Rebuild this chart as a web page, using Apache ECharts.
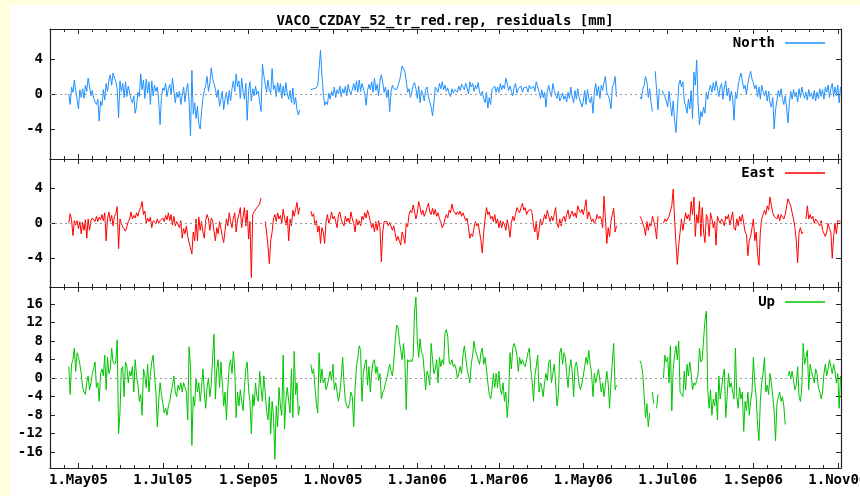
<!DOCTYPE html>
<html><head><meta charset="utf-8">
<script src="https://cdn.jsdelivr.net/npm/echarts@6/dist/echarts.min.js"></script>
<style>html,body{margin:0;padding:0;background:#ffffe0}#c{width:860px;height:496px}</style>
</head><body><div id="c"></div>
<script>
// ---- data (daily residuals, mm) ----
const startDate = '2005-04-24';
const north = [
0.0,-1.2,0.8,0.2,1.6,0.4,-0.6,-1.7,0.5,-0.4,
0.6,-0.5,1.0,0.3,1.8,0.9,-0.2,0.4,-0.5,-0.9,
-1.2,-0.6,-3.1,-0.8,-1.3,0.5,-0.7,1.2,0.3,1.6,
2.2,1.0,2.4,2.6,1.4,0.6,-2.7,1.5,0.3,1.2,
-0.4,1.4,-0.3,0.9,0.1,-0.6,-1.0,-0.2,-2.2,-1.4,
0.2,-0.3,2.3,0.5,1.6,-0.5,1.7,0.1,1.4,-1.2,
1.5,-0.2,1.0,0.3,0.8,-0.8,-3.5,-0.4,0.7,0.4,
1.2,-0.3,0.6,1.1,0.0,1.8,0.3,-1.0,0.2,-0.4,
0.3,-1.2,-0.2,0.8,-0.9,0.5,1.2,-1.0,-4.8,2.7,
-2.3,-1.0,-2.8,-1.4,-3.4,-4.0,-2.0,-0.5,0.4,1.0,
2.0,0.3,1.2,3.0,1.8,1.6,0.6,-0.4,0.5,-1.4,
-0.6,0.3,-1.8,-0.5,0.2,-1.2,0.4,-0.8,0.6,1.5,
0.3,2.3,0.8,1.5,-0.5,1.8,0.2,-0.6,1.2,-3.0,
0.4,1.4,-0.8,0.6,-0.2,0.9,0.0,0.3,-0.9,-2.0,
3.4,2.1,1.2,0.2,1.6,0.4,0.1,2.9,0.5,1.0,
-0.3,1.3,0.2,1.2,-0.5,0.9,-0.2,1.3,0.0,-0.6,
0.4,-1.0,0.7,-1.2,-0.4,-1.8,-2.4,-1.8,null,null,
null,null,null,null,null,0.5,0.6,0.6,0.5,0.7,
1.0,0.8,5.0,2.2,0.2,-1.3,-0.9,-1.2,0.1,-0.6,
0.3,-0.2,0.8,-0.4,0.5,0.0,0.9,-0.3,0.6,0.1,
0.9,-0.2,1.1,0.3,0.0,0.5,1.2,0.4,1.5,0.2,
1.6,0.3,1.2,0.6,0.0,-1.3,0.4,1.1,0.5,1.4,
0.2,1.8,0.4,1.1,-0.2,1.6,2.2,1.3,0.2,0.8,
-0.4,0.5,-2.0,0.3,1.0,0.6,0.8,0.5,0.9,1.4,
2.2,3.2,3.4,2.6,1.5,0.2,0.6,-0.4,0.2,1.0,
1.3,0.6,-0.5,0.9,-1.0,0.4,0.0,-0.8,0.5,0.8,
-0.3,-0.3,-1.5,-2.5,-1.0,0.8,1.0,0.2,1.2,0.6,
1.4,0.5,1.0,0.3,0.7,0.0,-0.3,0.6,0.1,0.5,
0.6,0.2,0.9,0.4,1.1,1.3,0.5,1.2,0.7,0.0,
1.4,0.8,1.2,0.3,1.0,0.6,1.3,0.2,-0.2,0.3,
-0.5,-1.0,0.2,-1.6,-0.4,-1.2,0.5,0.3,0.9,0.2,
0.8,0.2,1.2,0.5,1.0,0.6,1.8,1.2,0.4,0.9,
0.3,-0.2,0.8,1.2,0.1,0.6,0.4,0.9,0.2,0.7,
0.5,0.8,0.2,1.0,0.6,0.4,0.9,0.3,1.4,0.8,
0.3,-0.5,0.5,-0.4,0.2,-1.5,0.3,1.0,0.2,-0.3,
1.2,0.4,-0.2,-0.5,0.3,-0.8,-0.4,0.1,-0.6,-0.2,
-0.9,0.2,-0.5,0.8,-0.3,-1.0,0.4,-0.6,0.6,-0.4,
-0.6,-1.5,-0.8,0.4,-1.2,0.5,-0.5,-1.0,-0.3,-2.2,
0.3,1.2,-0.2,0.9,-0.5,1.0,0.4,1.3,2.0,0.2,
0.4,-0.6,-1.7,0.8,1.1,2.0,-0.3,null,null,null,
null,null,null,null,null,null,null,null,null,null,
null,null,null,-0.3,-0.6,0.5,1.0,2.0,1.4,-0.4,
0.6,-1.0,-2.0,null,2.6,0.5,-1.8,0.6,null,0.4,
0.6,-0.3,-0.8,-1.5,0.3,-1.2,-2.5,-0.8,-3.0,-4.4,
-1.8,1.0,1.6,0.8,1.4,-0.8,-1.4,-2.2,-0.6,-1.7,
0.4,-2.8,2.5,1.0,3.9,-1.0,-3.5,-2.0,-2.6,-1.5,
-2.2,0.2,-0.6,0.5,1.0,0.2,1.3,0.4,1.5,0.6,
-0.3,0.8,1.2,-0.6,0.8,1.5,-0.2,0.7,-0.8,0.3,
-0.5,-3.0,0.2,-0.5,1.0,1.8,2.4,1.5,0.6,1.0,
0.0,1.2,2.0,2.6,1.7,1.3,0.6,1.0,-0.3,0.8,
-0.6,1.0,0.3,-0.2,0.4,-0.8,0.3,-1.0,-1.5,-0.4,
-4.0,-1.8,-0.8,0.4,-0.3,0.6,-0.5,-1.2,-0.2,-1.6,
-3.3,-1.0,0.3,-0.6,0.5,-0.3,0.2,-0.9,0.6,-0.4,
0.8,0.0,-0.5,0.2,-0.7,0.5,-0.3,0.1,-0.6,0.4,
-0.8,0.2,-0.5,0.6,-0.3,0.5,-0.6,0.8,0.2,1.0,
-0.4,0.6,1.2,-0.3,0.8,-0.2,1.0,-1.0,0.8
];
const east = [
0.0,1.1,0.4,-1.4,0.3,-0.2,0.3,-0.6,0.2,-1.2,
0.1,-0.8,0.4,-1.7,0.5,-0.8,0.3,0.6,0.7,0.2,
0.8,0.2,0.7,0.4,1.0,0.3,1.2,-2.0,0.5,1.3,
0.2,0.9,-0.3,0.8,1.1,1.9,-2.9,0.5,0.0,-0.4,
-0.6,-0.9,-0.4,0.2,0.5,1.3,0.5,0.9,0.6,1.2,
0.8,1.5,1.8,2.5,1.0,1.4,0.0,0.6,0.2,0.7,
-0.5,0.3,0.2,0.0,0.5,0.0,0.3,0.1,0.6,0.2,
0.9,0.4,1.2,0.3,1.0,-0.2,0.8,-0.3,0.2,0.4,
-0.5,0.3,-1.7,-0.6,-1.2,-0.3,-1.5,-2.2,-2.8,-3.5,
-1.0,-2.0,0.5,-2.0,0.7,-0.8,0.2,-1.0,-1.7,0.3,
1.0,0.5,-0.8,0.6,0.3,-0.9,-2.0,-0.5,-1.2,0.2,
-0.6,-1.5,-2.2,-0.8,0.5,-0.3,1.2,0.2,-0.5,0.6,
1.2,-1.0,0.4,1.0,1.8,-0.5,0.8,1.8,-0.3,1.5,
-1.8,0.2,-6.2,1.0,1.3,1.5,1.8,2.0,2.2,2.9,
null,null,0.2,-1.0,-2.5,-4.6,-2.0,-1.0,0.5,1.0,
0.2,1.2,0.5,0.9,0.0,1.6,0.6,-0.2,0.8,-2.0,
0.5,-0.3,1.5,0.8,1.6,2.4,1.0,1.8,null,null,
null,null,null,null,null,1.4,0.8,1.1,-0.2,0.3,
-1.0,-0.3,-2.3,-0.5,-1.0,-2.3,0.2,1.0,0.0,0.5,
1.3,0.5,0.8,0.2,-0.5,1.0,1.3,0.4,0.5,-0.3,
0.8,0.2,0.6,0.0,1.3,0.5,0.0,-1.0,0.5,-0.2,
0.3,-0.3,0.8,0.4,1.2,0.6,1.5,0.9,0.2,-0.5,
0.0,-1.0,0.2,-0.8,0.3,-0.5,-4.4,-1.0,0.2,0.0,
0.2,-0.3,0.1,0.0,-0.8,-0.3,-1.2,-2.0,-1.5,-2.0,
-2.5,-1.0,-1.5,-2.3,0.0,-0.4,1.0,1.5,1.2,2.1,
1.3,0.5,1.2,2.5,1.8,1.0,1.5,0.8,1.2,1.8,
2.3,1.3,1.0,1.7,1.0,1.6,0.8,1.2,0.5,0.2,
-0.5,-0.2,0.5,1.0,0.6,1.5,1.2,2.2,1.5,1.7,
1.0,1.3,1.0,1.4,0.8,1.2,1.0,0.3,0.6,-0.5,
-1.7,-1.2,-1.5,-0.5,0.2,-0.3,0.0,-1.0,-2.0,-3.4,
-1.0,0.5,1.8,1.0,1.3,0.5,0.8,0.2,1.0,0.0,
0.5,-0.5,0.3,-0.5,0.2,-0.2,-0.8,0.4,-0.3,-1.6,
0.0,0.8,0.3,1.0,1.8,1.5,1.2,1.8,2.3,1.5,
1.8,1.0,1.4,1.3,1.6,1.2,-0.3,-1.0,0.2,-1.9,
-0.8,0.5,-0.2,0.2,1.0,0.5,1.5,0.8,0.2,0.8,
0.3,1.0,1.8,0.0,-0.5,0.5,-0.3,0.5,0.8,0.2,
1.0,1.5,0.5,1.0,1.4,0.8,1.2,0.6,2.0,1.5,
1.2,1.6,1.0,1.8,2.7,0.5,1.3,0.8,0.2,0.5,
0.0,0.3,1.0,0.5,0.8,0.5,-0.5,3.1,0.5,-2.3,
-0.5,-1.5,0.2,1.0,1.7,-1.0,-0.3,null,null,null,
null,null,null,null,null,null,null,null,null,null,
null,null,null,0.8,0.5,0.0,-0.5,-1.4,0.2,-0.8,
0.0,-0.3,0.8,0.2,-0.5,-1.8,0.8,null,null,null,
0.0,0.5,0.2,0.3,0.8,1.0,2.0,3.9,0.5,-2.3,
-4.7,-2.5,-1.0,0.5,-0.8,0.2,1.2,0.5,1.0,0.3,
2.5,1.0,3.0,-1.5,1.0,0.0,2.5,-1.5,1.8,-1.0,
-2.2,1.0,0.5,-1.5,1.2,0.5,-0.5,0.2,-2.5,0.8,
0.3,0.0,0.5,0.2,-0.3,0.8,0.5,1.0,-0.2,0.5,
1.3,-0.5,-0.8,0.5,-0.3,0.8,0.2,1.0,1.2,-1.0,
-1.3,-3.7,-2.0,-1.5,-0.5,0.5,-2.0,-1.0,-3.5,-4.8,
-1.0,0.5,1.0,1.5,1.0,2.0,1.5,3.0,2.0,1.2,
0.8,1.0,0.5,1.0,0.3,1.0,0.8,0.5,1.0,0.8,
2.8,2.4,2.0,1.2,0.5,-0.5,-2.0,-4.5,-1.0,-0.5,
-1.2,-1.0,null,0.5,2.0,0.5,1.0,0.5,0.8,0.0,
0.5,0.3,0.0,-0.3,0.3,-0.8,-1.0,-1.5,-1.0,0.0,
-0.6,-1.0,-4.0,-1.5,0.0,-1.2,0.3,0.5,0.2
];
const up = [
2.5,-3.5,3.0,4.0,6.5,1.5,5.5,4.5,3.0,1.0,
-2.0,-3.0,-3.5,-1.0,0.5,-2.5,-1.0,1.0,2.0,3.5,
-2.0,-1.0,-5.0,1.0,2.0,0.5,5.0,-2.5,4.5,1.0,
2.0,6.5,3.5,3.0,3.5,8.3,-12.0,-7.5,2.0,2.5,
-4.0,3.5,2.5,-1.0,1.5,0.5,2.5,-3.0,4.0,0.5,
-1.5,-5.0,-3.5,-8.0,2.0,0.5,-2.0,3.0,-3.0,1.0,
3.5,5.0,0.5,-3.0,-10.5,-5.0,-1.0,-3.5,-5.5,-7.5,
-6.5,-8.0,-6.0,-5.0,-3.0,-1.5,0.5,-3.0,-4.0,-1.5,
-2.5,-1.0,-3.0,-1.0,-2.0,-3.0,-9.0,6.8,2.5,-14.5,
-4.0,-6.0,0.0,-3.0,-1.0,-5.0,-2.0,2.0,-3.0,-6.5,
-2.0,0.0,-4.0,-1.5,4.5,9.5,-4.5,2.0,4.0,-2.0,
3.5,-1.0,-6.0,-3.0,-9.0,-2.0,2.5,4.0,1.0,5.8,
2.0,-8.5,-3.0,-6.0,-2.5,-5.0,-7.0,-2.0,2.0,3.5,
-2.5,-5.0,-12.0,-3.5,-6.0,-1.0,-4.0,-5.0,1.5,-2.0,
-5.0,0.5,-3.0,-7.0,-9.0,-4.0,-12.0,-5.0,-8.0,-17.5,
-6.0,-10.5,-2.0,-6.0,-8.0,5.0,-11.0,-4.5,-2.0,-5.0,
-7.5,2.0,-8.5,5.8,-3.5,-1.0,-8.0,-6.0,null,null,
null,null,null,null,null,3.0,1.0,2.0,-2.0,-5.5,
-7.5,5.5,-1.0,2.0,-1.0,0.0,-2.5,-1.5,0.0,1.5,
-0.5,3.0,-2.5,-1.0,-3.0,-5.0,-3.0,0.0,4.5,-1.0,
-5.0,-6.0,-6.5,-5.5,-3.0,-4.0,-10.5,-2.0,2.5,4.5,
7.0,6.0,-5.0,1.0,3.0,4.0,-1.5,2.5,-3.0,1.0,
3.5,4.0,1.0,2.5,-0.5,1.0,-4.5,-3.0,-2.5,-1.0,
0.0,1.5,3.0,1.5,0.5,3.5,8.0,11.5,11.0,8.0,
6.0,4.0,7.5,4.0,-6.8,4.0,3.5,4.0,3.5,4.5,
14.5,17.5,8.0,4.5,8.5,5.5,5.0,1.5,-2.5,1.5,
0.5,-1.5,7.5,4.0,1.0,2.0,4.0,-1.0,4.5,2.5,
4.0,3.0,9.8,10.5,9.0,3.5,3.0,4.0,2.5,3.0,
2.0,0.0,1.0,2.5,1.0,5.0,7.0,4.5,2.0,0.5,
-1.0,3.0,5.0,8.0,6.0,5.0,4.0,3.0,5.5,6.5,
3.0,4.5,2.0,-1.0,-3.5,-4.5,-2.5,1.0,-2.0,1.0,
-2.0,1.5,-2.5,-3.5,-1.0,-5.0,-3.0,-8.5,-4.5,5.5,
2.0,6.5,7.5,6.5,5.0,1.5,4.5,3.0,4.0,3.0,
2.5,4.0,5.5,6.5,2.0,-0.5,-5.0,0.5,2.5,5.0,
-3.0,-1.0,-2.0,-4.0,-1.0,1.0,-0.5,3.5,4.0,-1.0,
1.0,3.0,-1.0,-6.0,-3.5,5.5,6.5,3.0,5.5,4.5,
1.0,-2.0,2.0,4.0,1.5,-4.0,2.5,3.5,1.5,-1.5,
-2.5,-1.0,0.5,2.5,4.5,3.0,6.0,3.0,1.0,-4.0,
1.0,-1.0,0.5,2.0,-0.5,-3.0,-1.0,-4.0,-1.5,1.5,
-1.0,-6.5,-1.0,3.5,7.5,-2.5,-1.5,null,null,null,
null,null,null,null,null,null,null,null,null,null,
null,null,null,3.8,3.0,1.0,-4.0,-8.5,-5.5,-10.5,
-7.5,null,-3.0,-5.5,null,-6.5,-3.5,null,null,null,
0.0,5.0,3.5,4.5,-1.0,7.0,-7.0,2.0,5.0,7.0,
4.0,8.0,-3.0,-3.5,-4.0,1.5,-2.5,3.0,0.5,3.5,
1.0,-2.5,-1.0,-1.5,-0.5,1.0,6.5,3.5,4.0,8.5,
12.5,14.5,-2.5,-6.5,-2.5,-8.0,-4.5,-6.0,-3.0,-9.0,
0.5,-4.5,-2.0,0.5,2.0,-8.5,-4.0,1.0,-2.0,-1.0,
-3.0,-4.5,6.5,-4.0,-6.5,-2.0,-4.5,-3.0,-11.5,-5.0,
-7.0,-3.0,-8.0,-5.0,-3.0,4.5,-1.0,-4.0,-10.0,-13.5,
-5.0,-1.0,1.0,4.5,-3.0,-1.5,-3.5,1.0,-1.0,-4.0,
-7.0,-13.5,-5.5,-4.0,-3.0,-5.0,-4.0,-6.0,-10.0,null,
0.5,1.5,0.0,1.5,-0.5,-2.5,-1.5,2.5,-4.0,-5.0,
-2.0,7.5,3.0,4.5,6.0,-2.5,3.0,1.5,1.5,-1.0,
2.0,1.0,-2.0,-3.0,-4.5,-3.0,1.0,3.0,0.5,2.0,
4.0,4.0,1.0,3.0,1.5,-1.0,1.0,-6.5,0.5
];
const seriesNames = ['North', 'East', 'Up'];
const monthTicks = ['2005-05-01','2005-07-01','2005-09-01','2005-11-01','2006-01-01',
                    '2006-03-01','2006-05-01','2006-07-01','2006-09-01','2006-11-01'];
const yTicksNE = [-4, 0, 4];
const yTicksUp = [-16, -12, -8, -4, 0, 4, 8, 12, 16];
const titleText = 'VACO_CZDAY_52_tr_red.rep, residuals [mm]';

// ---- derived ----
const DAY = 86400000;
const t0 = Date.parse(startDate + 'T00:00:00Z');
const dates = north.map((_, i) => t0 + i * DAY);
const xMin = Date.parse('2005-04-10T10:00:00Z');
const xMax = Date.parse('2006-11-03T08:00:00Z');
const MONTHS = ['Jan','Feb','Mar','Apr','May','Jun','Jul','Aug','Sep','Oct','Nov','Dec'];
const majorTs = monthTicks.map(s => Date.parse(s + 'T00:00:00Z'));
function addMonthsUTC(t, n) { const d = new Date(t); return Date.UTC(d.getUTCFullYear(), d.getUTCMonth() + n, 1); }
const edges = [addMonthsUTC(majorTs[0], -2)].concat(majorTs, [addMonthsUTC(majorTs[majorTs.length - 1], 2)]);
const minorTs = [];
for (let k = 0; k < edges.length - 1; k++) {
  for (let j = 1; j < 6; j++) {
    const t = edges[k] + (edges[k + 1] - edges[k]) * j / 6;
    if (t > xMin && t < xMax) minorTs.push(t);
  }
}
const fmtDate = v => { const d = new Date(v); return '1.' + MONTHS[d.getUTCMonth()] + String(d.getUTCFullYear()).slice(2); };

const FONT = '"DejaVu Sans Mono", "Liberation Mono", monospace';
const AX = '#222';
const colors = ['#1e90ff', '#ff0000', '#00c400'];
const values = [north, east, up];
const grids = [
  { left: 50, right: 19, top: 29, height: 130 },
  { left: 50, right: 19, top: 159, height: 128 },
  { left: 50, right: 19, top: 287, height: 181 }
].map(g => Object.assign(g, { containLabel: false, outerBoundsMode: 'none' }));
const yRanges = [[-7.43, 7.43], [-7.28, 7.35], [-19.4, 19.7]];
const yTicks = [yTicksNE, yTicksNE, yTicksUp];
const legendTops = [36, 166, 295];

const labelStyle = { fontFamily: FONT, fontSize: 14, fontWeight: 'bold', color: '#000' };

function xAx(g, pos, ticks, len, withLine, withLabels) {
  return {
    type: 'value', gridIndex: g, position: pos, min: xMin, max: xMax, scale: true,
    axisLine: { show: withLine, onZero: false, lineStyle: { color: AX, width: 1.2 } },
    axisTick: { show: true, inside: true, length: len, customValues: ticks, lineStyle: { color: AX, width: 1 } },
    axisLabel: withLabels ? Object.assign({ show: true, customValues: majorTs, formatter: fmtDate, margin: 5, showMinLabel: true, showMaxLabel: true }, labelStyle) : { show: false },
    splitLine: { show: false }
  };
}
const xAxis = [], yAxis = [], series = [], legend = [];
for (let g = 0; g < 3; g++) {
  xAxis.push(xAx(g, 'bottom', majorTs, 5, true, g === 2));
  xAxis.push(xAx(g, 'bottom', minorTs, 3, false, false));
  xAxis.push(xAx(g, 'top', majorTs, 5, true, false));
  xAxis.push(xAx(g, 'top', minorTs, 3, false, false));
  ['left', 'right'].forEach(pos => {
    yAxis.push({
      type: 'value', gridIndex: g, position: pos, min: yRanges[g][0], max: yRanges[g][1],
      axisLine: { show: true, onZero: false, lineStyle: { color: AX, width: 1.2 } },
      axisTick: { show: true, inside: true, length: 5, customValues: yTicks[g], lineStyle: { color: AX, width: 1 } },
      axisLabel: pos === 'left' ? Object.assign({ show: true, customValues: yTicks[g], margin: 7 }, labelStyle) : { show: false },
      splitLine: { show: false }
    });
  });
  series.push({
    name: seriesNames[g], type: 'line', xAxisIndex: 4 * g, yAxisIndex: 2 * g,
    data: dates.map((d, i) => [d, values[g][i] == null ? '-' : values[g][i]]),
    showSymbol: false, connectNulls: false, color: colors[g],
    lineStyle: { color: colors[g], width: 1 }, itemStyle: { color: colors[g] },
    markLine: {
      silent: true, symbol: 'none', label: { show: false },
      lineStyle: { color: '#999', type: [2, 3], width: 1 },
      data: [{ yAxis: 0 }]
    }
  });
  legend.push({
    data: [seriesNames[g]], right: 35, top: legendTops[g], align: 'right',
    icon: 'rect', itemWidth: 40, itemHeight: 1.5, selectedMode: false, padding: 0,
    textStyle: Object.assign({ padding: [0, 5, 0, 0] }, labelStyle)
  });
}

const chart = echarts.init(document.getElementById('c'), null, { renderer: 'canvas' });
chart.setOption({
  backgroundColor: '#ffffe0',
  animation: false,
  title: { text: titleText, left: 445, top: 14, textAlign: 'center', padding: 0, textStyle: labelStyle },
  graphic: [{ type: 'rect', shape: { x: 10, y: 5, width: 850, height: 491 }, style: { fill: '#ffffff' }, z: -100, silent: true }],
  grid: grids, xAxis, yAxis, series, legend
});
</script></body></html>
